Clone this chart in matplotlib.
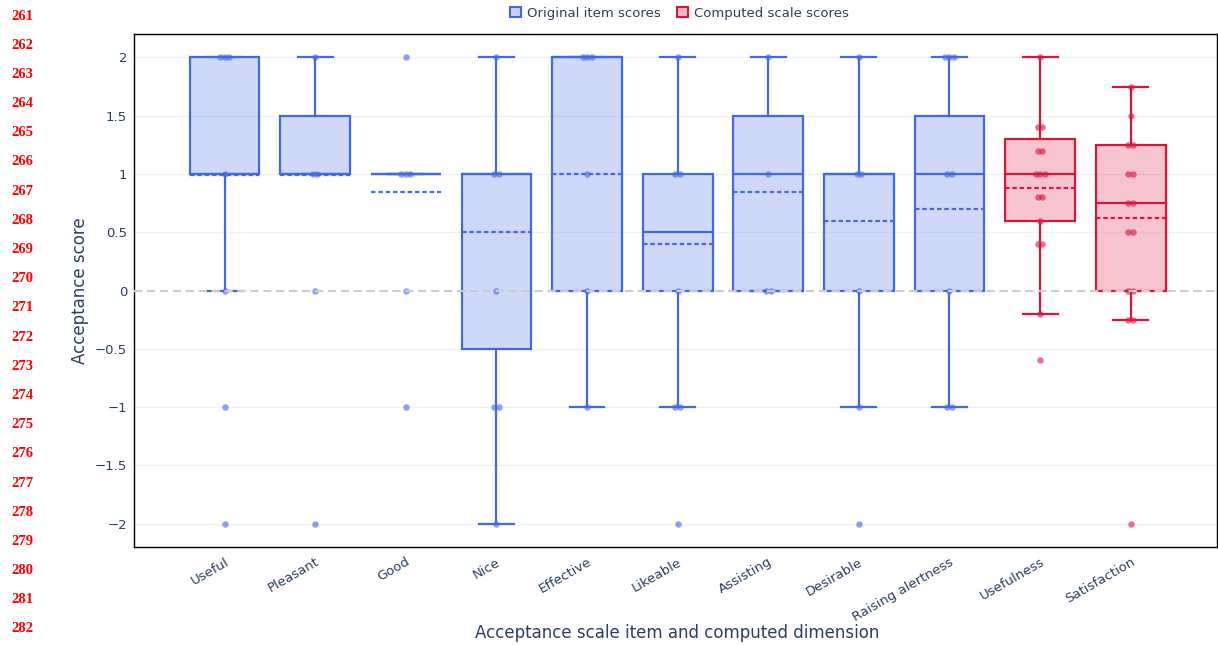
import matplotlib
matplotlib.use("Agg")
import matplotlib.pyplot as plt
from matplotlib.patches import Patch
from matplotlib.ticker import FuncFormatter

# ---------- data ----------
categories = ["Useful", "Pleasant", "Good", "Nice", "Effective", "Likeable",
              "Assisting", "Desirable", "Raising alertness", "Usefulness", "Satisfaction"]
group = ["item"] * 9 + ["scale"] * 2

q1 =     [1.0, 1.0, 1.0, -0.5, 0.0, 0.0, 0.0, 0.0, 0.0, 0.6, 0.0]
median = [1.0, 1.0, 1.0, 1.0, 2.0, 0.5, 1.0, 1.0, 1.0, 1.0, 0.75]
q3 =     [2.0, 1.5, 1.0, 1.0, 2.0, 1.0, 1.5, 1.0, 1.5, 1.3, 1.25]
mean =   [0.99, 0.99, 0.85, 0.5, 1.0, 0.4, 0.85, 0.6, 0.7, 0.88, 0.625]
whislo = [0.0, 1.0, 1.0, -2.0, -1.0, -1.0, 0.0, -1.0, -1.0, -0.2, -0.25]
whishi = [2.0, 2.0, 1.0, 2.0, 2.0, 2.0, 2.0, 2.0, 2.0, 2.0, 1.75]

points = [
    [2, 2, 2, 1, 0, -1, -2],
    [2, 1, 1, 0, -2],
    [2, 1, 1, 1, 0, -1],
    [2, 1, 1, 0, -1, -1, -2],
    [2, 2, 2, 1, 0, -1],
    [2, 1, 1, 0, -1, -1, -2],
    [2, 1, 0, 0],
    [2, 1, 1, 0, -1, -2],
    [2, 2, 2, 1, 1, 0, -1, -1],
    [2, 1.4, 1.4, 1.2, 1.2, 1.0, 1.0, 1.0, 0.8, 0.8, 0.6, 0.4, 0.4, -0.2, -0.6],
    [1.75, 1.5, 1.25, 1.25, 1.0, 1.0, 0.75, 0.75, 0.5, 0.5, 0.0, 0.0, -0.25, -0.25, -2],
]

BLUE = "#4169E1"
RED = "#DC143C"
TXT = "#2a3f5f"
colors = {"item": BLUE, "scale": RED}

fig = plt.figure(figsize=(12.18, 6.45), dpi=100)
ax = fig.add_axes([0.110, 0.152, 0.889, 0.795])

# grid
for y in [-2, -1.5, -1, -0.5, 0.5, 1, 1.5, 2]:
    ax.axhline(y, color="#eef1f7", lw=1.0, zorder=0)

for i, cat in enumerate(categories):
    c = colors[group[i]]
    stats = [dict(med=median[i], q1=q1[i], q3=q3[i], whislo=whislo[i],
                  whishi=whishi[i], mean=mean[i], fliers=[])]
    ax.bxp(stats, positions=[i], widths=0.77, capwidths=0.385, patch_artist=True,
           showmeans=True, meanline=True, manage_ticks=False,
           boxprops=dict(facecolor=matplotlib.colors.to_rgba(c, 0.25), edgecolor=c, lw=1.6),
           medianprops=dict(color=c, lw=1.6),
           meanprops=dict(color=c, lw=1.6, linestyle=(0, (2.0, 1.3))),
           whiskerprops=dict(color=c, lw=1.6),
           capprops=dict(color=c, lw=1.6), zorder=2)
    # points with small fixed spread for repeated values
    seen = {}
    xs, ys = [], []
    for v in points[i]:
        k = seen.get(v, 0)
        seen[v] = k + 1
        n = points[i].count(v)
        xs.append(i + (k - (n - 1) / 2) * 0.05)
        ys.append(v)
    ax.scatter(xs, ys, s=22, color=c, alpha=0.6, lw=0, zorder=3)

ax.axhline(0, color="#cccccc", lw=1.5, linestyle=(0, (4, 2.2)), zorder=5)

ax.set_xlim(-1.0, 10.95)
ax.set_ylim(-2.2, 2.2)
ax.set_yticks([-2, -1.5, -1, -0.5, 0, 0.5, 1, 1.5, 2])
ax.yaxis.set_major_formatter(FuncFormatter(lambda v, p: f"{v:g}".replace("-", "\u2212")))
ax.set_xticks(range(len(categories)))
ax.set_xticklabels(categories, rotation=30, ha="right", rotation_mode="anchor")
ax.tick_params(axis="both", length=0, colors=TXT, labelsize=9.5)
ax.tick_params(axis="y", pad=5)
ax.tick_params(axis="x", pad=6)
for s in ax.spines.values():
    s.set_color("black")
    s.set_linewidth(1.0)

ax.set_ylabel("Acceptance score", fontsize=12, color=TXT)
ax.yaxis.set_label_coords(-0.0415, 0.5)
fig.text(677 / 1218, 1 - 633 / 645, "Acceptance scale item and computed dimension",
         fontsize=12, color=TXT, ha="center", va="center")

handles = [Patch(facecolor=matplotlib.colors.to_rgba(BLUE, 0.3), edgecolor=BLUE, lw=1.5,
                 label="Original item scores"),
           Patch(facecolor=matplotlib.colors.to_rgba(RED, 0.3), edgecolor=RED, lw=1.5,
                 label="Computed scale scores")]
leg = fig.legend(handles=handles, loc="center", bbox_to_anchor=(0.558, 1 - 13 / 645), ncol=2,
                 frameon=False, fontsize=9.5, handlelength=0.8, handleheight=0.8,
                 handletextpad=0.5, columnspacing=1.2, borderpad=0)
for t in leg.get_texts():
    t.set_color(TXT)

# manuscript line numbers along the left margin
for k, num in enumerate(range(261, 283)):
    fig.text(22 / 1218, 1 - (16 + k * 29.19) / 645, str(num), color="red",
             fontsize=10.5, family="Liberation Serif", weight="bold",
             ha="center", va="center")

fig.savefig("out.png", dpi=100, facecolor="white")
